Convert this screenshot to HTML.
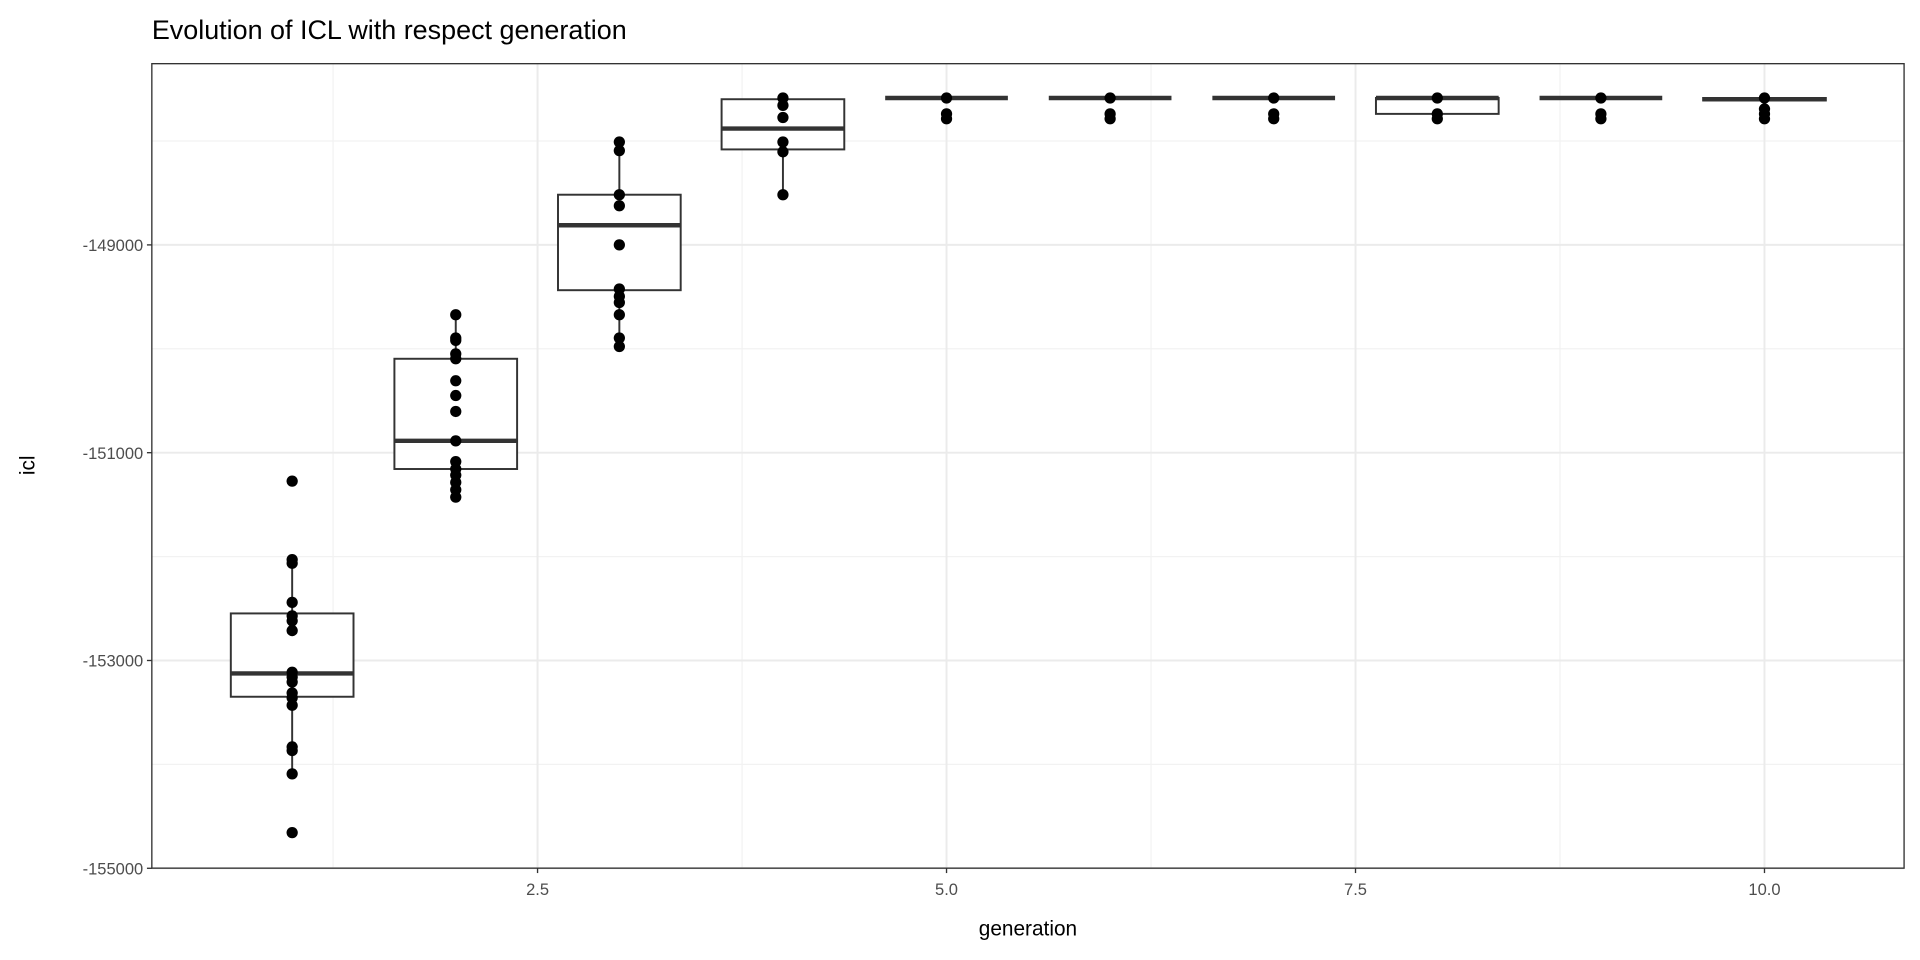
<!DOCTYPE html>
<html><head><meta charset="utf-8"><style>
html,body{margin:0;padding:0;background:#fff;}
svg{display:block;font-family:"Liberation Sans",sans-serif;}
</style></head><body>
<svg id="chart" width="1920" height="960" viewBox="0 0 1568 784" xmlns="http://www.w3.org/2000/svg">
<rect x="0" y="0" width="1568" height="784" fill="#fff"/>
<text x="124" y="32" font-size="22" fill="#000">Evolution of ICL with respect generation</text>
<g id="grid"></g>
<g id="marks"></g>
<rect x="124" y="52" width="1431" height="657" fill="none" stroke="#333" stroke-width="1.1"/>
<g id="axes"></g>
<text x="839.5" y="764" font-size="17" text-anchor="middle" fill="#000">generation</text>
<text transform="translate(28,380) rotate(-90)" font-size="17" text-anchor="middle" fill="#000">icl</text>
</svg>
<script>
const generations = [1,2,3,4,5,6,7,8,9,10];
const boxLow = [-154091,-151428,-149978,-148517,-147586,-147586,-147586,-147586,-147586,-147586];
const boxQ1 = [-153349,-151157,-149436,-148081,-147586,-147586,-147586,-147739,-147586,-147610];
const boxMedian = [-153125,-150886,-148811,-147880,-147586,-147586,-147586,-147586,-147586,-147598];
const boxQ3 = [-152547,-150096,-148517,-147598,-147586,-147586,-147586,-147586,-147586,-147586];
const boxHigh = [-152029,-149672,-148010,-147586,-147586,-147586,-147586,-147586,-147586,-147586];
const pointsByGen = [
 [-151274,-152029,-152064,-152441,-152571,-152618,-152712,-153113,-153160,-153207,-153313,-153360,-153431,-153832,-153867,-154091,-154657],
 [-149672,-149896,-149919,-150049,-150096,-150308,-150450,-150603,-150886,-151086,-151157,-151216,-151286,-151357,-151428],
 [-148010,-148093,-148517,-148623,-149000,-149424,-149495,-149554,-149672,-149896,-149978],
 [-147586,-147657,-147774,-148010,-148104,-148517],
 [-147586,-147739,-147786],
 [-147586,-147739,-147786],
 [-147586,-147739,-147786],
 [-147586,-147739,-147786],
 [-147586,-147739,-147786],
 [-147586,-147692,-147739,-147786]
];
const xTicks = [2.5,5.0,7.5,10.0];
const xTickLabels = ["2.5","5.0","7.5","10.0"];
const xMinor = [1.25,3.75,6.25,8.75];
const yTicks = [-149000,-151000,-153000,-155000];
const yTickLabels = ["-149000","-151000","-153000","-155000"];
const yMinor = [-148000,-150000,-152000,-154000];

const NS="http://www.w3.org/2000/svg";
const PL=124,PR=1555,PT=52,PB=709;
function xs(v){return 439+(v-2.5)*133.6;}
function ys(v){return 200+(-149000-v)/2000*169.7;}
function mk(tag,attrs,parent){const e=document.createElementNS(NS,tag);for(const k in attrs)e.setAttribute(k,attrs[k]);parent.appendChild(e);return e;}
const grid=document.getElementById('grid'),marks=document.getElementById('marks'),axes=document.getElementById('axes');
xMinor.forEach(v=>{const l=mk('line',{x1:xs(v),x2:xs(v),y1:PT,y2:PB,stroke:'#f2f2f2','stroke-width':1},grid);

});
yMinor.forEach(v=>{const l=mk('line',{x1:PL,x2:PR,y1:ys(v),y2:ys(v),stroke:'#f2f2f2','stroke-width':1},grid);

});
xTicks.forEach((v,i)=>{const l=mk('line',{x1:xs(v),x2:xs(v),y1:PT,y2:PB,stroke:'#ebebeb','stroke-width':1.6},grid);


const t=mk('line',{x1:xs(v),x2:xs(v),y1:PB,y2:PB+4,stroke:'#333','stroke-width':1.1},axes);


const tx=mk('text',{x:xs(v),y:PB+22,'font-size':13.5,'text-anchor':'middle',fill:'#4d4d4d'},axes);tx.textContent=xTickLabels[i];

});
yTicks.forEach((v,i)=>{const l=mk('line',{x1:PL,x2:PR,y1:ys(v),y2:ys(v),stroke:'#ebebeb','stroke-width':1.6},grid);


const t=mk('line',{x1:PL-4,x2:PL,y1:ys(v),y2:ys(v),stroke:'#333','stroke-width':1.1},axes);


const tx=mk('text',{x:PL-7,y:ys(v)+5,'font-size':13.5,'text-anchor':'end',fill:'#4d4d4d'},axes);tx.textContent=yTickLabels[i];

});
const bw=0.75*133.6;
generations.forEach((g,i)=>{
 const cx=xs(g);
 const grp=mk('g',{},marks);
 
 
 mk('line',{x1:cx,x2:cx,y1:ys(boxHigh[i]),y2:ys(boxQ3[i]),stroke:'#333','stroke-width':1.6},grp);
 mk('line',{x1:cx,x2:cx,y1:ys(boxQ1[i]),y2:ys(boxLow[i]),stroke:'#333','stroke-width':1.6},grp);
 mk('rect',{x:cx-bw/2,y:ys(boxQ3[i]),width:bw,height:Math.max(0,ys(boxQ1[i])-ys(boxQ3[i])),fill:'#fff',stroke:'#333','stroke-width':1.6},grp);
 mk('line',{x1:cx-bw/2,x2:cx+bw/2,y1:ys(boxMedian[i]),y2:ys(boxMedian[i]),stroke:'#333','stroke-width':3.6,'stroke-linecap':'butt'},grp);
 pointsByGen[i].forEach(v=>{const c=mk('circle',{cx:cx,cy:ys(v),r:4.6,fill:'#000'},marks);
 
 });
});
</script>
</body></html>
